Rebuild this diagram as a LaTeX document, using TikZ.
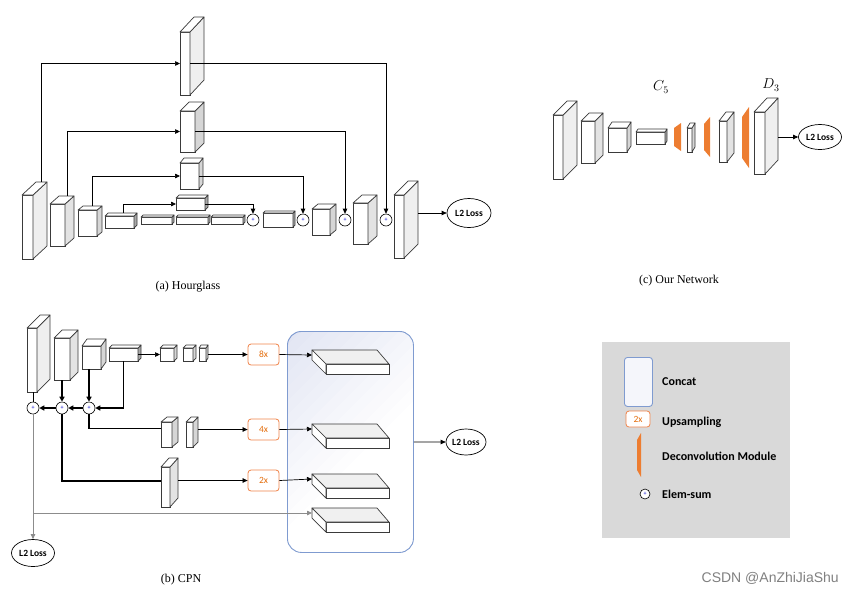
\documentclass[tikz,border=0pt]{standalone}
\usepackage{fontspec}
\setmainfont{Liberation Serif}
\newfontfamily\carlito{Carlito}
\newfontfamily\wmfont{Liberation Sans}
\usetikzlibrary{arrows.meta,shapes.geometric,calc}
\definecolor{edgec}{HTML}{3A3A3A}
\definecolor{orangeF}{HTML}{ED7D31}
\definecolor{orangeB}{HTML}{F0844A}
\definecolor{orangeT}{HTML}{E46C0A}
\definecolor{concatB}{HTML}{7F9BD0}
\definecolor{concatT}{HTML}{E2E5F3}
\definecolor{legendF}{HTML}{D9D9D9}
\definecolor{grayline}{HTML}{8C8C8C}
\definecolor{sideA}{HTML}{EFEFEF}
\definecolor{sideB}{HTML}{E3E3E3}
\definecolor{sideC}{HTML}{D6D6D6}
\definecolor{sideD}{HTML}{A8A8A8}
\definecolor{slabtop}{HTML}{F0F0F0}
\newcommand{\lossfont}{\carlito\bfseries\fontsize{9.5}{11}\selectfont}
\newcommand{\legfont}{\carlito\bfseries\fontsize{12}{14}\selectfont}
\newcommand{\capfont}{\fontsize{12}{14}\selectfont}
% cuboid: name, x, y (top-left of front face), w, h, dx, dy, side fill
\newcommand{\mycub}[8]{%
  \node[cubefront, minimum width=#4pt, minimum height=#5pt, anchor=north west] (#1) at (#2,#3) {};
  \filldraw[cubeline, fill=#8] (#2+#4,#3) -- ++(#6,-#7) -- ++(0,#5) -- ++(-#6,#7) -- cycle;
  \filldraw[cubeline, fill=white] (#2,#3) -- ++(#6,-#7) -- ++(#4,0) -- ++(-#6,#7) -- cycle;
  \coordinate (#1-r) at (#2+#4+#6, #3+#5/2-#7/2);
}
% slab in concat block: name, top y
\newcommand{\myslab}[2]{%
  \node[cubefront, minimum width=63pt, minimum height=10pt, anchor=north west] (#1) at (326,#2+14) {};
  \filldraw[cubeline, fill=slabtop] (312,#2) -- (377,#2) -- (389,#2+14) -- (326,#2+14) -- cycle;
  \filldraw[cubeline, fill=white] (312,#2) -- (326,#2+14) -- (326,#2+24) -- (312,#2+10) -- cycle;
  \coordinate (#1-in) at (312,#2+5);
}
% deconvolution module: x left, y top, w, h, inset
\newcommand{\mydeconv}[5]{%
  \fill[orangeF] (#1+#3,#2) -- (#1+#3,#2+#4) -- (#1,#2+#4-#5) -- (#1,#2+#5) -- cycle;
}
\tikzset{
  cubeline/.style={draw=edgec, line width=0.7pt, line join=round},
  cubefront/.style={draw=edgec, line width=0.7pt, fill=white, inner sep=0pt, outer sep=0pt},
  conn/.style={line width=0.7pt, draw=black},
  arr/.style={conn, -{Triangle[length=5pt,width=4.5pt]}},
  tline/.style={line width=1.3pt, draw=black},
  tarr/.style={tline, -{Triangle[length=5pt,width=5pt]}},
  garr/.style={line width=0.8pt, draw=grayline, -{Triangle[length=5pt,width=4.5pt]}},
  sumc/.style={circle, draw=black, line width=0.6pt, fill=white, minimum size=12pt, inner sep=0pt,
    text=blue!80!black, font=\carlito\fontsize{6}{6}\selectfont},
  loss/.style={ellipse, draw=black, line width=0.7pt, fill=white,
    inner sep=0pt, font=\lossfont},
  upbox/.style={draw=orangeB, line width=0.8pt, rounded corners=3pt, fill=white, text=orangeT,
    minimum width=31pt, minimum height=21pt, inner sep=0pt, font=\carlito\fontsize{9.5}{11}\selectfont},
  capt/.style={font=\capfont, inner sep=0pt},
  legtext/.style={font=\legfont, anchor=west, inner sep=0pt},
}
\begin{document}
\begin{tikzpicture}[x=1pt,y=-1pt]
\useasboundingbox (0,0) rectangle (853,595);

% ================= (a) Hourglass =================
\mycub{h1}{22}{195}{11}{64}{14}{13}{sideA}
\mycub{h2}{50}{204}{15}{42}{9}{8}{sideB}
\mycub{h3}{78}{210}{19}{26}{5}{4}{sideC}
\mycub{h4}{105}{216}{29}{12}{3}{3}{sideD}
\mycub{b1}{141}{217}{31}{7}{2}{2}{sideD}
\mycub{b2}{176}{217}{32}{7}{2}{2}{sideD}
\mycub{b3}{211}{217}{32}{7}{2}{2}{sideD}
\mycub{h5}{263}{213}{30}{14}{2}{2}{sideD}
\mycub{h6}{312}{209}{18}{26}{6}{5}{sideC}
\mycub{h7}{353}{203}{15}{41}{9}{8}{sideB}
\mycub{h8}{394}{195}{10}{63}{14}{14}{sideA}
\mycub{t1}{180}{32}{10}{63}{14}{15}{sideA}
\mycub{t2}{180}{111}{15}{41}{9}{9}{sideC}
\mycub{t3}{180}{163}{19}{26}{4}{5}{sideC}
\mycub{t4}{176}{198}{29}{12}{3}{3}{sideD}
\node[sumc] (hs1) at (253,220) {+};
\node[sumc] (hs2) at (303,220) {+};
\node[sumc] (hs3) at (345,220) {+};
\node[sumc] (hs4) at (386,220) {+};
\node[loss, minimum width=44pt, minimum height=29pt] (la) at (469,213) {L2 Loss};

\draw[arr] ([xshift=13.5pt,yshift=13pt]h1.north) |- (t1.west);
\draw[arr] (t1.east) -| (hs4.north);
\draw[arr] ([xshift=9.5pt,yshift=8pt]h2.north) |- (t2.west);
\draw[arr] (t2.east) -| (hs3.north);
\draw[arr] ([xshift=4.5pt,yshift=4pt]h3.north) |- (t3.west);
\draw[arr] (t3.east) -| (hs2.north);
\draw[arr] ([xshift=3.5pt,yshift=3pt]h4.north) |- (t4.west);
\draw[arr] (t4.east) -| (hs1.north);
\draw[arr] (h8-r |- la.west) -- (la.west);
\node[capt] (capa) at (188,287) {(a) Hourglass};

% ================= (c) Our Network =================
\mycub{n1}{553}{115}{10}{64}{14}{14}{sideA}
\mycub{n2}{581}{121}{14}{42}{8}{8}{sideB}
\mycub{n3}{608}{128}{19}{24}{4}{6}{sideC}
\mycub{n4}{636}{132}{29}{12}{2}{3}{sideD}
\mydeconv{674}{123}{7}{28}{5}
\mycub{n5}{687}{128}{5}{24}{3}{5}{sideC}
\mydeconv{704}{117}{6}{40}{7}
\mycub{n6}{719}{121}{8}{41}{7}{9}{sideB}
\mydeconv{742}{107}{7}{61}{10}
\mycub{n7}{754}{112}{11}{62}{13}{14}{sideA}
\node[loss, minimum width=43pt, minimum height=25pt] (lc) at (820,137) {L2 Loss};
\draw[arr] (n7-r |- lc.west) -- (lc.west);
\node[inner sep=0pt, font=\fontsize{14}{16}\selectfont] (c5) at (661,87) {$C_5$};
\node[inner sep=0pt, font=\fontsize{14}{16}\selectfont] (d3) at (771,85) {$D_3$};
\node[capt] (capc) at (679,281) {(c) Our Network};

% ================= (b) CPN =================
% concat block background: lavender at top-left fading to white
\begin{scope}
  \clip[rounded corners=14pt] (287,331) rectangle (413,552);
  \fill[concatT] (287,331) rectangle (413,552);
  \foreach \k in {1,...,14} {
    \pgfmathsetmacro\pc{100-100*\k/14}
    \fill[concatT!\pc!white] (618+14*\k-300,300) -- (618+14*\k-600,600) -- (1000,600) -- (1000,300) -- cycle;
  }
\end{scope}
\node[draw=concatB, line width=0.9pt, rounded corners=14pt,
  minimum width=126pt, minimum height=221pt, inner sep=0pt, anchor=north west] (cc) at (287,331) {};
\myslab{s1}{350}
\myslab{s2}{424}
\myslab{s3}{474}
\myslab{s4}{508}

\mycub{p1}{27}{328}{10}{64}{13}{13}{sideA}
\mycub{p2}{54}{338}{16}{42}{8}{8}{sideB}
\mycub{p3}{82}{346}{19}{23}{5}{7}{sideC}
\mycub{p4}{109}{348}{29}{13}{3}{3}{sideD}
\mycub{p5}{160}{348}{14}{13}{3}{3}{sideC}
\mycub{p6}{183}{348}{10}{13}{3}{3}{sideC}
\mycub{p7}{199}{348}{7}{13}{2}{3}{sideC}
\mycub{q1}{161}{422}{11}{25}{6}{5}{sideC}
\mycub{q2}{186}{422}{7}{25}{5}{5}{sideC}
\mycub{r1}{161}{467}{9}{40}{8}{9}{sideB}
\node[sumc] (cs1) at (33,408) {+};
\node[sumc] (cs2) at (62,408) {+};
\node[sumc] (cs3) at (89,408) {+};
\node[upbox] (x8) at (263.5,354.5) {8x};
\node[upbox] (x4) at (263.5,429.5) {4x};
\node[upbox] (x2) at (263.5,480.5) {2x};
\node[loss, minimum width=40pt, minimum height=26pt] (lb) at (466,442) {L2 Loss};
\node[loss, minimum width=43pt, minimum height=27pt] (ld) at (33,553) {L2 Loss};

\draw[conn] (p1.south -| cs1) -- (cs1.north);
\draw[tarr] (p2.south -| cs2) -- (cs2.north);
\draw[tarr] (p3.south -| cs3) -- (cs3.north);
\draw[tarr] (p4.south) |- (cs3.east);
\draw[tarr] (cs3.west) -- (cs2.east);
\draw[tarr] (cs2.west) -- (cs1.east);
\draw[arr] (p4.east) -- (p5.west);
\draw[arr] (p7-r |- x8.west) -- (x8.west);
\draw[arr] (x8.east) -- (s1-in);
\draw[tline] (cs3.south) |- ([yshift=6pt]q1.west);
\draw[arr] (q2-r |- x4.west) -- (x4.west);
\draw[arr] (x4.east) -- (s2-in);
\draw[tline] (cs2.south) |- ([yshift=6pt]r1.west);
\draw[arr] (r1-r |- x2.west) -- (x2.west);
\draw[arr] (x2.east) -- (s3-in);
\draw[garr] (cs1.south) -- (ld.north);
\draw[garr] (cs1.south |- s4-in) -- (s4-in);
\draw[arr] (cc.east) -- (lb.west);
\node[capt] (capb) at (181,580) {(b) CPN};

% ================= Legend =================
\node[fill=legendF, minimum width=188pt, minimum height=196pt, inner sep=0pt, anchor=north west] (lg) at (602,342) {};
\node[draw=concatB, line width=0.9pt, rounded corners=3pt, fill=concatT!35!white,
  minimum width=28pt, minimum height=49pt, inner sep=0pt, anchor=north west] (lgc) at (624,357) {};
\node[upbox, minimum width=24pt, minimum height=16pt] (lgu) at (638,419) {2x};
\mydeconv{637}{433}{4}{44}{7}
\node[sumc, minimum size=10pt] (lgs) at (645,494) {+};
\node[legtext] (t-concat) at (662,382) {Concat};
\node[legtext] (t-up) at (662,422) {Upsampling};
\node[legtext] (t-dec) at (662,456) {Deconvolution Module};
\node[legtext] (t-sum) at (662,494) {Elem-sum};

% watermark
\node[inner sep=0pt, anchor=east, text=black!50, font=\wmfont\fontsize{14}{16}\selectfont] (wm) at (839,578) {CSDN @AnZhiJiaShu};
\end{tikzpicture}
\end{document}
